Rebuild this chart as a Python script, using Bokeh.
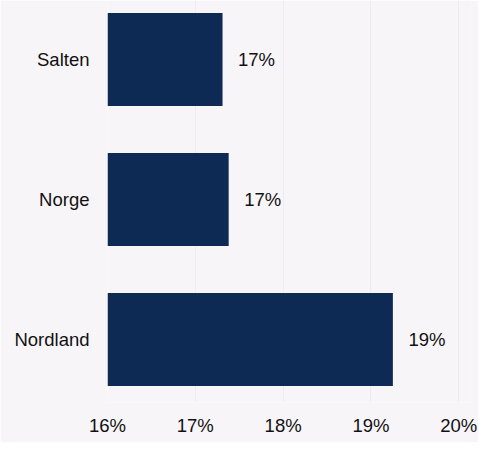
from bokeh.plotting import figure
from bokeh.models import Range1d, FixedTicker, ColumnDataSource
from bokeh.embed import file_html
from bokeh.resources import INLINE
from bokeh.core.properties import value

# Data (bottom to top)
regions = ["Nordland", "Norge", "Salten"]
shares = [19.25, 17.38, 17.31]
value_labels = ["19%", "17%", "17%"]
x_ticks = [16, 17, 18, 19, 20]
x_tick_labels = ["16%", "17%", "18%", "19%", "20%"]
baseline = 16

FONT = "Liberation Sans"
BG = "#f8f5f9"
BAR = "#0d2a55"
FS = "18.5px"

ypos = list(range(len(regions)))
src = ColumnDataSource(dict(y=ypos, share=shares, lab=value_labels))

p = figure(width=478, height=442, output_backend="svg", toolbar_location=None,
           x_range=Range1d(16, 20.134), y_range=Range1d(-0.45, 2.422),
           min_border_left=107, min_border_right=8, min_border_top=0,
           min_border_bottom=40)
p.background_fill_color = BG
p.border_fill_color = BG
p.outline_line_color = None

p.hbar(y="y", left=baseline, right="share", height=0.665, source=src,
       fill_color=BAR, line_color=None)
p.text(x="share", y="y", text="lab", source=src, x_offset=15.5,
       text_baseline="middle", text_align="left",
       text_font=value(FONT), text_font_size=FS, text_color="#111111")

# x axis
p.xaxis.ticker = FixedTicker(ticks=x_ticks)
p.xaxis.major_label_overrides = {t: l for t, l in zip(x_ticks, x_tick_labels)}
p.xaxis.axis_line_color = None
p.xaxis.major_tick_line_color = None
p.xaxis.minor_tick_line_color = None
p.xaxis.major_tick_out = 0
p.xaxis.major_label_standoff = 12
p.xaxis.major_label_text_font = FONT
p.xaxis.major_label_text_font_size = FS
p.xaxis.major_label_text_color = "#111111"

# y axis
p.yaxis.ticker = FixedTicker(ticks=ypos)
p.yaxis.major_label_overrides = {i: r for i, r in zip(ypos, regions)}
p.yaxis.axis_line_color = None
p.yaxis.major_tick_line_color = None
p.yaxis.minor_tick_line_color = None
p.yaxis.major_tick_out = 0
p.yaxis.major_label_standoff = 18
p.yaxis.major_label_text_font = FONT
p.yaxis.major_label_text_font_size = FS
p.yaxis.major_label_text_color = "#111111"

p.xgrid.ticker = FixedTicker(ticks=x_ticks)
p.xgrid.grid_line_color = "#efebf0"
p.ygrid.grid_line_color = None

open("out.html", "w").write(file_html(p, INLINE))
